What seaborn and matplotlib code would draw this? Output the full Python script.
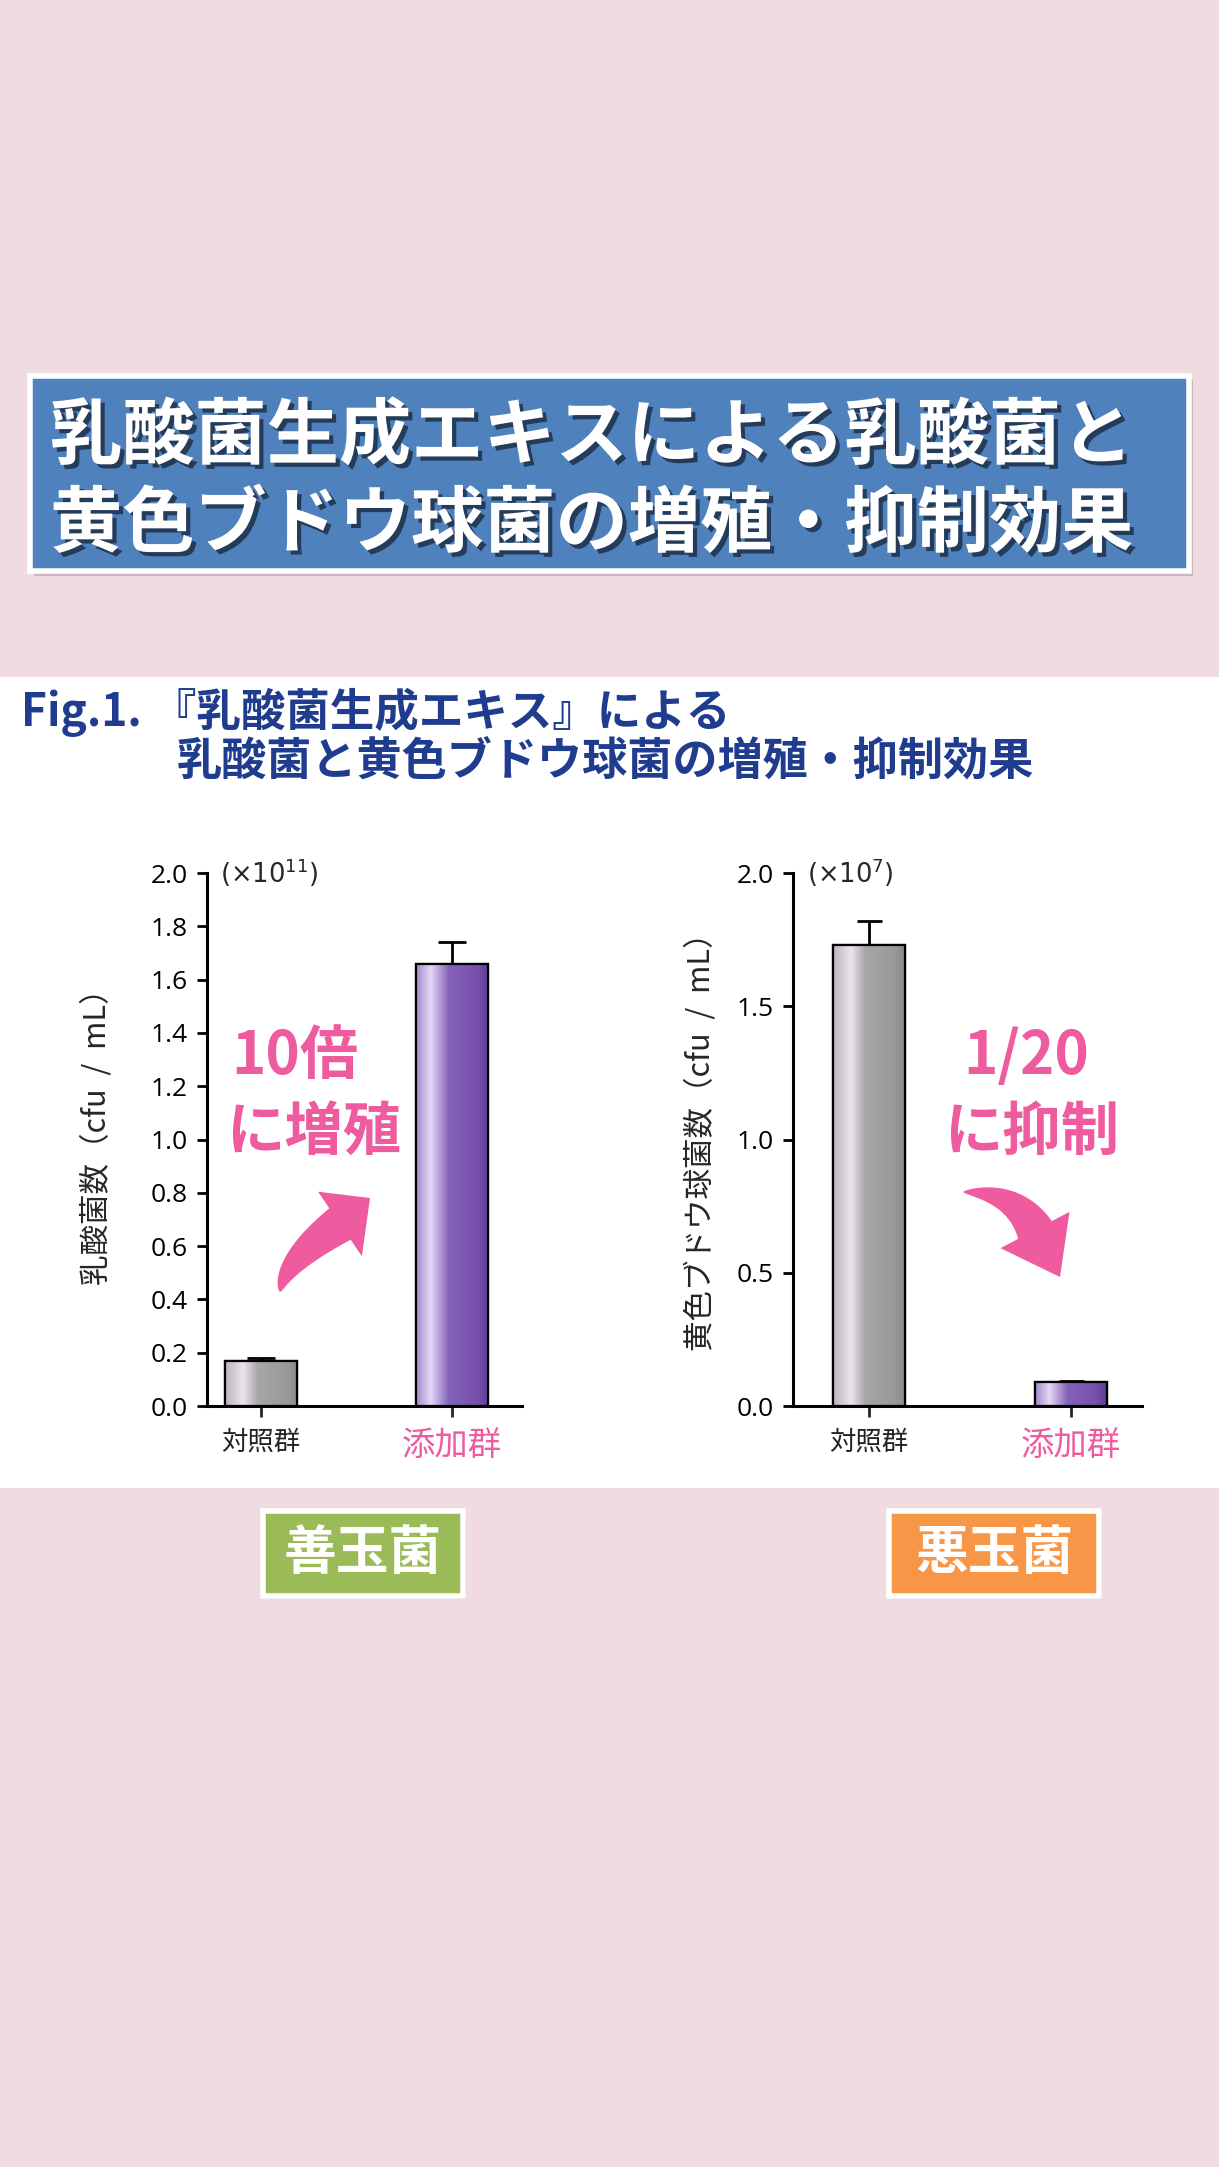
import numpy as np
import pandas as pd
import matplotlib
matplotlib.use("Agg")
import matplotlib.pyplot as plt
import seaborn as sns
from matplotlib.patches import Rectangle, Polygon
from matplotlib.colors import LinearSegmentedColormap
import matplotlib.patheffects as pe

# ---------------- data ----------------
categories = ["対照群", "添加群"]
lab_values = [0.17, 1.66]          # ×10^11 cfu/mL
lab_errors = [0.01, 0.08]
staph_values = [1.73, 0.09]        # ×10^7 cfu/mL
staph_errors = [0.09, 0.005]
left_yticks = [0.0, 0.2, 0.4, 0.6, 0.8, 1.0, 1.2, 1.4, 1.6, 1.8, 2.0]
right_yticks = [0.0, 0.5, 1.0, 1.5, 2.0]

main_title = ["乳酸菌生成エキスによる乳酸菌と", "黄色ブドウ球菌の増殖・抑制効果"]
fig_title = ["Fig.1. 『乳酸菌生成エキス』による", "乳酸菌と黄色ブドウ球菌の増殖・抑制効果"]

# ---------------- style ----------------
sns.set_theme(style="ticks")
plt.rcParams['font.family'] = ['Noto Sans CJK JP', 'DejaVu Sans']

W, H = 1219, 2167
DPI = 100
fig = plt.figure(figsize=(W / DPI, H / DPI), dpi=DPI)
BG = "#F0DCE0"
fig.patch.set_facecolor(BG)

def fx(x):
    return x / W

def fy(y):
    return 1 - y / H

PINK = "#EE5B9F"
NAVY = "#1F3C8F"

# white panel
fig.patches.append(Rectangle((0, fy(1488)), 1, (1488 - 677) / H, transform=fig.transFigure,
                             facecolor="white", edgecolor="none", zorder=-5))

# title box with shadow
fig.patches.append(Rectangle((fx(34), fy(576)), (1193 - 34) / W, (576 - 380) / H,
                             transform=fig.transFigure, facecolor="#C8B8C0", edgecolor="none", zorder=-4))
fig.patches.append(Rectangle((fx(30), fy(571)), (1189 - 30) / W, (571 - 376) / H,
                             transform=fig.transFigure, facecolor="#4F81BD", edgecolor="white",
                             linewidth=4, zorder=-3))
for i, (line, yy) in enumerate(zip(main_title, [437, 525])):
    fig.text(fx(50), fy(yy), line, fontsize=52, fontweight="bold", color="white",
             ha="left", va="center", zorder=3,
             path_effects=[pe.withSimplePatchShadow(offset=(3, -3), shadow_rgbFace="#1A2A40", alpha=0.8)])

# Fig.1 caption
fig.text(fx(21), fy(712), fig_title[0], fontsize=32, fontweight="bold", color=NAVY,
         ha="left", va="center", zorder=3)
fig.text(fx(177), fy(762), fig_title[1], fontsize=32.5, fontweight="bold", color=NAVY,
         ha="left", va="center", zorder=3)


def gradient_bars(ax, cmaps):
    for patch, cmap in zip(list(ax.patches), cmaps):
        x0, y0 = patch.get_x(), patch.get_y()
        w, h = patch.get_width(), patch.get_height()
        grad = np.linspace(0, 1, 256).reshape(1, -1)
        im = ax.imshow(grad, extent=[x0, x0 + w, y0, y0 + h], aspect="auto",
                       cmap=cmap, zorder=patch.get_zorder() + 0.1, origin="lower")
        im.set_clip_path(patch)
        edge = Rectangle((x0, y0), w, h, fill=False, edgecolor="black", linewidth=1.6,
                         zorder=patch.get_zorder() + 0.2)
        ax.add_patch(edge)


gray_cmap = LinearSegmentedColormap.from_list("g", [(0, "#B8B4BA"), (0.25, "#EAE4EE"),
                                                    (0.45, "#A8A6A9"), (0.85, "#9A989A"), (1, "#8C8A8C")])
purple_cmap = LinearSegmentedColormap.from_list("p", [(0, "#A287CC"), (0.2, "#E4D8F5"),
                                                      (0.45, "#8563BA"), (0.85, "#7650AC"), (1, "#5F3C95")])


def make_panel(rect, values, errors, yticks, xlim, width, ylabel, mult, cap):
    ax = fig.add_axes(rect, zorder=2)
    ax.set_facecolor("none")
    df = pd.DataFrame({"group": categories, "value": values})
    sns.barplot(data=df, x="group", y="value", hue="group", palette=["#A8A8A8", "#7E57B5"],
                width=width, legend=False, ax=ax, edgecolor="black", linewidth=1.6, zorder=2)
    gradient_bars(ax, [gray_cmap, purple_cmap])
    ax.errorbar(range(len(values)), values, yerr=[[0] * len(values), errors], fmt="none",
                ecolor="black", elinewidth=2, capsize=cap, capthick=2, zorder=1)
    ax.set_xlim(*xlim)
    ax.set_ylim(0, 2.0)
    ax.set_yticks(yticks)
    ax.set_yticklabels([f"{t:.1f}" for t in yticks], fontsize=19, family=["Open Sans", "DejaVu Sans"])
    ax.set_xlabel("")
    ax.set_ylabel(ylabel, fontsize=22)
    for sp in ["top", "right"]:
        ax.spines[sp].set_visible(False)
    for sp in ["left", "bottom"]:
        ax.spines[sp].set_linewidth(2.2)
        ax.spines[sp].set_color("black")
    ax.tick_params(axis="y", length=7, width=2, direction="out", pad=7, colors="black")
    ax.tick_params(axis="x", length=8, width=2, direction="out", pad=8)
    ax.set_xticks(range(len(categories)))
    labels = ax.set_xticklabels(categories)
    labels[0].set_color("#222222")
    labels[0].set_fontsize(19)
    labels[1].set_color(PINK)
    labels[1].set_fontsize(24)
    ax.text(0.04, 1.0, mult, transform=ax.transAxes, fontsize=18.5, ha="left", va="center",
            family=["DejaVu Sans"])
    return ax


ax1 = make_panel([fx(207), fy(1406), (522 - 207) / W, (1406 - 873) / H],
                 lab_values, lab_errors, left_yticks, (-0.283, 1.366), 0.377,
                 "乳酸菌数（cfu  /  mL）", r"$(\times10^{11})$", 10)
ax2 = make_panel([fx(793), fy(1406), (1142 - 793) / W, (1406 - 873) / H],
                 staph_values, staph_errors, right_yticks, (-0.376, 1.35), 0.356,
                 "黄色ブドウ球菌数（cfu  /  mL）", r"$(\times10^{7})$", 9)
ax1.yaxis.set_label_coords(-0.30, 0.52)
ax2.yaxis.set_label_coords(-0.218, 0.51)

# annotations
fig.text(fx(231), fy(1057), "10倍", fontsize=42, fontweight="bold", color=PINK, ha="left", va="center")
fig.text(fx(226), fy(1133), "に増殖", fontsize=42, fontweight="bold", color=PINK, ha="left", va="center")
fig.text(fx(963), fy(1057), "1/20", fontsize=42, fontweight="bold", color=PINK, ha="left", va="center")
fig.text(fx(944), fy(1133), "に抑制", fontsize=42, fontweight="bold", color=PINK, ha="left", va="center")


def tapered_arrow(p0, p1, p2, tip, body_w, head_w):
    """Curved arrow with pointed tail; points in figure pixels (top-left origin)."""
    p0, p1, p2, tip = map(np.asarray, (p0, p1, p2, tip))
    t = np.linspace(0, 1, 60)[:, None]
    pts = (1 - t) ** 2 * p0 + 2 * (1 - t) * t * p1 + t ** 2 * p2
    der = 2 * (1 - t) * (p1 - p0) + 2 * t * (p2 - p1)
    der = der / np.linalg.norm(der, axis=1, keepdims=True)
    nrm = np.column_stack([-der[:, 1], der[:, 0]])
    w = body_w / 2 * (t[:, 0] ** 0.7)
    left = pts + nrm * w[:, None]
    right = pts - nrm * w[:, None]
    n_end = nrm[-1]
    hl = p2 + n_end * head_w / 2
    hr = p2 - n_end * head_w / 2
    poly = np.vstack([left, hl[None], tip[None], hr[None], right[::-1]])
    poly_fig = np.column_stack([poly[:, 0] / W, 1 - poly[:, 1] / H])
    fig.patches.append(Polygon(poly_fig, closed=True, transform=fig.transFigure,
                               facecolor=PINK, edgecolor="none", zorder=5))


tapered_arrow((280, 1292), (284, 1262), (340, 1224), (370, 1198), 38, 78)
tapered_arrow((963, 1192), (1015, 1192), (1035, 1230), (1060, 1277), 38, 78)

# bottom labels
for (x0, x1, col, txt) in [(263, 463, "#9BBB59", "善玉菌"), (889, 1099, "#F79646", "悪玉菌")]:
    fig.patches.append(Rectangle((fx(x0 + 3), fy(1599)), (x1 - x0) / W, (1599 - 1514) / H,
                                 transform=fig.transFigure, facecolor="#C9B5BC", edgecolor="none", zorder=-4))
    fig.patches.append(Rectangle((fx(x0), fy(1596)), (x1 - x0) / W, (1596 - 1511) / H,
                                 transform=fig.transFigure, facecolor=col, edgecolor="white",
                                 linewidth=4, zorder=-3))
    fig.text(fx((x0 + x1) / 2), fy(1553), txt, fontsize=38, fontweight="bold", color="white",
             ha="center", va="center", zorder=3)

fig.savefig("out.png", dpi=DPI, facecolor=fig.get_facecolor())
